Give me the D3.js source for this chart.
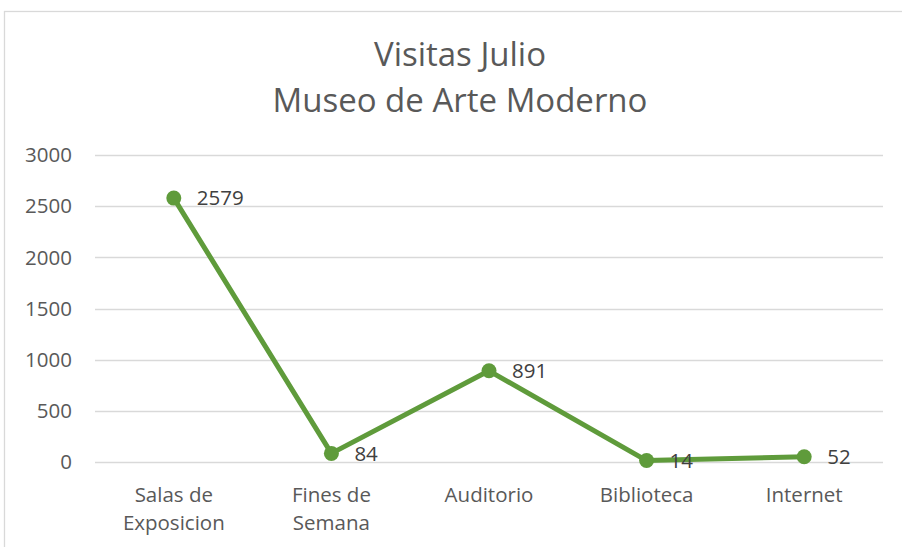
<!DOCTYPE html>
<meta charset="utf-8">
<style>
  body { margin: 0; background: #fff; }
  text { font-family: "Open Sans", sans-serif; }
  .grid line { stroke: #d9d9d9; stroke-width: 1.3px; }
  .ylab text { fill: #595959; font-size: 20.5px; }
  .xlab text { fill: #595959; font-size: 20.5px; }
</style>
<svg width="902" height="547"></svg>
<script src="https://d3js.org/d3.v7.min.js"></script>
<script>

// data
var categories = [["Salas de", "Exposicion"], ["Fines de", "Semana"], ["Auditorio"], ["Biblioteca"], ["Internet"]];
var visitas = [2579, 84, 891, 14, 52];
var yTicks = [0, 500, 1000, 1500, 2000, 2500, 3000];
var titleLines = ["Visitas Julio", "Museo de Arte Moderno"];

var svg = d3.select("svg");

// chart area border
svg.append("rect")
    .attr("x", 4.5).attr("y", 11.5)
    .attr("width", 1000).attr("height", 1000)
    .attr("fill", "none")
    .attr("stroke", "#d9d9d9")
    .attr("stroke-width", 1.3);

var plotLeft = 95, plotRight = 883, plotTop = 155, plotBottom = 462;

var x = d3.scaleBand()
    .domain(d3.range(categories.length))
    .range([plotLeft, plotRight]);

var y = d3.scaleLinear()
    .domain([0, 3000])
    .range([plotBottom, plotTop]);

// title
svg.append("g").selectAll("text")
    .data(titleLines)
    .enter().append("text")
      .attr("x", 460)
      .attr("y", function(d, i) { return 66 + i * 46; })
      .attr("text-anchor", "middle")
      .attr("fill", "#595959")
      .attr("font-size", "33px")
      .text(function(d) { return d; });

// gridlines
svg.append("g")
    .attr("class", "grid")
  .selectAll("line")
  .data(yTicks)
  .enter().append("line")
    .attr("x1", plotLeft).attr("x2", plotRight)
    .attr("y1", function(d) { return Math.round(y(d)) + 0.5; })
    .attr("y2", function(d) { return Math.round(y(d)) + 0.5; });

// y tick labels
svg.append("g")
    .attr("class", "ylab")
  .selectAll("text")
  .data(yTicks)
  .enter().append("text")
    .attr("x", 72)
    .attr("y", function(d) { return y(d); })
    .attr("dy", "0.35em")
    .attr("text-anchor", "end")
    .text(function(d) { return d; });

// category labels (may wrap to two lines)
var xl = svg.append("g")
    .attr("class", "xlab")
  .selectAll("text")
  .data(categories)
  .enter().append("text")
    .attr("text-anchor", "middle")
    .attr("transform", function(d, i) {
      return "translate(" + (x(i) + x.bandwidth() / 2) + ",502)";
    });

xl.selectAll("tspan")
    .data(function(d) { return d; })
    .enter().append("tspan")
      .attr("x", 0)
      .attr("y", function(d, i) { return i * 28; })
      .text(function(d) { return d; });

var cx = function(d, i) { return x(i) + x.bandwidth() / 2; };

// line
var line = d3.line()
    .x(function(d, i) { return cx(d, i); })
    .y(function(d) { return y(d); });

svg.append("path")
    .datum(visitas)
    .attr("fill", "none")
    .attr("stroke", "#5f9b3b")
    .attr("stroke-width", 5)
    .attr("stroke-linejoin", "round")
    .attr("d", line);

// markers
svg.append("g").selectAll("circle")
    .data(visitas)
    .enter().append("circle")
      .attr("cx", cx)
      .attr("cy", function(d) { return y(d); })
      .attr("r", 7.5)
      .attr("fill", "#5f9b3b");

// data labels, to the right of each point
svg.append("g").selectAll("text")
    .data(visitas)
    .enter().append("text")
      .attr("x", function(d, i) { return cx(d, i) + 23; })
      .attr("y", function(d) { return y(d); })
      .attr("dy", "0.35em")
      .attr("fill", "#404040")
      .attr("font-size", "20.5px")
      .text(function(d) { return d; });

</script>
